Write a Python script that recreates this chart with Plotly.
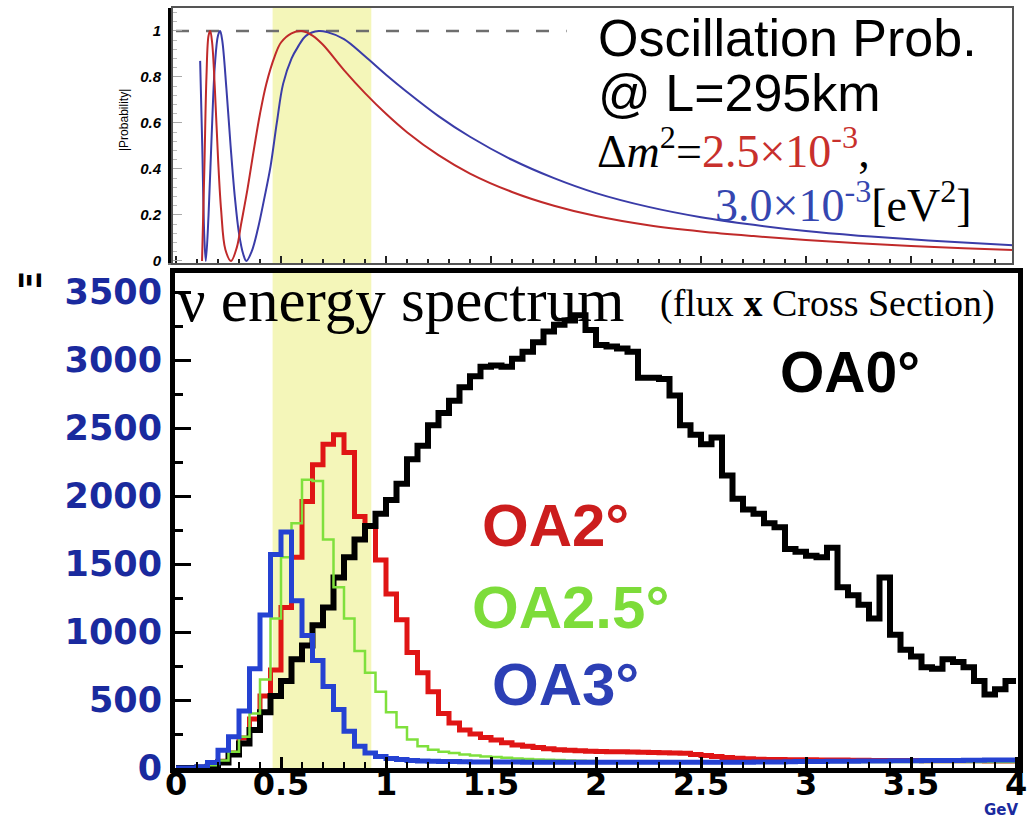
import plotly.graph_objects as go

W, H = 1035, 818

# ---------------- data ----------------
bin_width = 0.05
bin_edges = [round(i * bin_width, 2) for i in range(81)]  # 0 .. 4 GeV

oa0 = [0, 0, 2, 10, 40, 100, 180, 280, 410, 530,
       640, 800, 900, 1050, 1180, 1400, 1550, 1680, 1780, 1870,
       1970, 2090, 2270, 2370, 2520, 2610, 2700, 2800, 2880, 2950,
       2960, 2950, 3010, 3060, 3130, 3210, 3260, 3290, 3330, 3220,
       3110, 3100, 3085, 3060, 2870, 2870, 2860, 2740, 2520, 2450,
       2380, 2430, 2150, 1980, 1900, 1870, 1800, 1770, 1610, 1590,
       1560, 1550, 1620, 1330, 1270, 1200, 1100, 1400, 980, 870,
       820, 740, 730, 800, 780, 740, 640, 540, 580, 640]

oa2 = [0, 0, 5, 20, 50, 110, 220, 360, 530, 720,
       1180, 1550, 1960, 2230, 2380, 2450, 2320, 1850, 1780, 1530,
       1280, 1090, 850, 700, 560, 400, 330, 280, 250, 225,
       205, 185, 170, 160, 150, 142, 135, 130, 126, 124,
       122, 120, 119, 118, 116, 114, 112, 110, 108, 100,
       92, 85, 78, 72, 68, 65, 63, 62, 61, 60,
       60, 59, 58, 58, 57, 57, 56, 56, 55, 55,
       55, 54, 54, 54, 53, 53, 53, 52, 52, 52]

oa25 = [0, 0, 5, 20, 55, 120, 230, 400, 650, 1100,
        1550, 1800, 2120, 2110, 1680, 1330, 1100, 860, 700, 560,
        410, 300, 210, 160, 135, 120, 110, 100, 92, 85,
        80, 75, 70, 66, 62, 60, 58, 56, 54, 52,
        50, 50, 49, 49, 48, 48, 48, 47, 47, 47,
        47, 46, 46, 46, 46, 46, 45, 45, 45, 45,
        45, 45, 45, 45, 45, 45, 45, 45, 45, 45,
        45, 45, 45, 45, 45, 45, 45, 45, 45, 45]

oa3 = [0, 0, 10, 40, 130, 230, 420, 730, 1125, 1570,
       1735, 1230, 975, 790, 600, 430, 270, 160, 110, 85,
       70, 62, 56, 52, 50, 48, 47, 46, 45, 45,
       44, 44, 44, 43, 43, 43, 43, 42, 42, 42,
       42, 42, 42, 42, 42, 42, 42, 42, 42, 42,
       42, 42, 42, 43, 43, 44, 44, 45, 46, 47,
       48, 48, 49, 50, 50, 51, 52, 52, 53, 54,
       54, 55, 55, 56, 56, 57, 57, 58, 58, 58]

# oscillation probability
prob_e_25 = [0.124, 0.135, 0.145, 0.155, 0.163, 0.172, 0.185, 0.2, 0.215, 0.235,
             0.262, 0.29, 0.31, 0.34, 0.37, 0.40, 0.43, 0.47, 0.50, 0.55,
             0.60, 0.65, 0.70, 0.80, 0.90, 1.0, 1.1, 1.25, 1.4, 1.6,
             1.8, 2.0, 2.25, 2.5, 2.75, 3.0, 3.25, 3.5, 3.75, 3.986]
prob_p_25 = [0.0, 0.4, 0.8, 0.98, 1.0, 0.95, 0.75, 0.45, 0.22, 0.05,
             0.0, 0.06, 0.16, 0.31, 0.48, 0.64, 0.77, 0.89, 0.95, 0.99,
             1.0, 0.98, 0.94, 0.83, 0.73, 0.64, 0.56, 0.46, 0.38, 0.30,
             0.24, 0.195, 0.155, 0.128, 0.108, 0.091, 0.077, 0.065, 0.055, 0.047]

prob_e_30 = [0.115, 0.125, 0.135, 0.142, 0.155, 0.17, 0.185, 0.2, 0.21, 0.22,
             0.24, 0.26, 0.28, 0.30, 0.32, 0.335, 0.36, 0.39, 0.42, 0.45,
             0.48, 0.51, 0.55, 0.58, 0.62, 0.68, 0.72, 0.80, 0.90, 1.0,
             1.1, 1.25, 1.4, 1.6, 1.8, 2.0, 2.25, 2.5, 2.75, 3.0,
             3.25, 3.5, 3.75, 3.986]
prob_p_30 = [0.87, 0.5, 0.1, 0.0, 0.2, 0.55, 0.85, 0.98, 1.0, 0.96,
             0.75, 0.5, 0.28, 0.12, 0.03, 0.0, 0.04, 0.14, 0.27, 0.41,
             0.6, 0.77, 0.88, 0.93, 0.98, 1.0, 0.995, 0.965, 0.89, 0.81,
             0.735, 0.63, 0.54, 0.44, 0.36, 0.295, 0.235, 0.19, 0.157, 0.13,
             0.11, 0.094, 0.08, 0.068]

band_lo, band_hi = 0.46, 0.93

x_ticks = [0, 0.5, 1, 1.5, 2, 2.5, 3, 3.5, 4]
x_ticklabels = ["0", "0.5", "1", "1.5", "2", "2.5", "3", "3.5", "4"]
y_ticks = [0, 500, 1000, 1500, 2000, 2500, 3000, 3500]
y_ticklabels = ["0", "500", "1000", "1500", "2000", "2500", "3000", "3500"]
p_ticks = [0, 0.2, 0.4, 0.6, 0.8, 1.0]
p_ticklabels = ["0", "0.2", "0.4", "0.6", "0.8", "1"]


def px(x):
    return x / W


def py(y):
    return 1 - y / H


def steps(vals):
    return vals + [vals[-1]]


fig = go.Figure()

# ---- bottom panel histograms ----
fig.add_trace(go.Scatter(x=bin_edges, y=steps(oa2), mode="lines", line_shape="hv",
                         line=dict(color="#e01515", width=5), xaxis="x", yaxis="y"))
fig.add_trace(go.Scatter(x=bin_edges, y=steps(oa0), mode="lines", line_shape="hv",
                         line=dict(color="#000000", width=6), xaxis="x", yaxis="y"))
fig.add_trace(go.Scatter(x=bin_edges, y=steps(oa25), mode="lines", line_shape="hv",
                         line=dict(color="#7fe03c", width=2.5), xaxis="x", yaxis="y"))
fig.add_trace(go.Scatter(x=bin_edges, y=steps(oa3), mode="lines", line_shape="hv",
                         line=dict(color="#2542d2", width=5), xaxis="x", yaxis="y"))

# ---- top panel probability ----
fig.add_trace(go.Scatter(x=[0, 1.86], y=[1, 1], mode="lines",
                         line=dict(color="#6e6e6e", width=2.5, dash="13px,17px"),
                         xaxis="x2", yaxis="y2"))
fig.add_trace(go.Scatter(x=prob_e_30, y=prob_p_30, mode="lines", line_shape="spline",
                         line=dict(color="#3a3ca8", width=2), xaxis="x2", yaxis="y2"))
fig.add_trace(go.Scatter(x=prob_e_25, y=prob_p_25, mode="lines", line_shape="spline",
                         line=dict(color="#c02a2a", width=2), xaxis="x2", yaxis="y2"))

band_color = "#f4f6b9"
shapes = [
    dict(type="rect", xref="x", yref="y domain", x0=band_lo, x1=band_hi, y0=0, y1=1,
         fillcolor=band_color, line=dict(width=0), layer="below"),
    dict(type="rect", xref="x2", yref="y2 domain", x0=band_lo, x1=band_hi, y0=0, y1=1,
         fillcolor=band_color, line=dict(width=0), layer="below"),
    # top panel frame
    dict(type="rect", xref="paper", yref="paper", x0=px(172), x1=px(1013), y0=py(264), y1=py(7),
         line=dict(color="#555555", width=2), layer="above"),
]

serif = "Liberation Serif"
sans = "Liberation Sans"
blue_lbl = "#1a2a9e"

annotations = [
    dict(text="Oscillation Prob.", x=px(596), y=py(38), xanchor="left", yanchor="middle",
         font=dict(family=sans, size=52, color="black")),
    dict(text="@ L=295km", x=px(596), y=py(93), xanchor="left", yanchor="middle",
         font=dict(family=sans, size=52, color="black")),
    dict(text="Δ<i>m</i><sup>2</sup>=<span style='color:#c8302c'>2.5×10<sup>-3</sup></span>,",
         x=px(595), y=py(148), xanchor="left", yanchor="middle",
         font=dict(family=serif, size=46, color="black")),
    dict(text="<span style='color:#3546b0'>3.0×10<sup>-3</sup></span>[eV<sup>2</sup>]",
         x=px(713), y=py(202), xanchor="left", yanchor="middle",
         font=dict(family=serif, size=46, color="black")),
    dict(text="|Probability|", x=px(124), y=py(120), textangle=-90, xanchor="center", yanchor="middle",
         font=dict(family=sans, size=12, color="black")),
    dict(text="ν energy spectrum", x=px(176), y=py(300), xanchor="left", yanchor="middle",
         font=dict(family=serif, size=61, color="black")),
    dict(text="(flux <b>x</b> Cross Section)", x=px(658), y=py(304), xanchor="left", yanchor="middle",
         font=dict(family=serif, size=38, color="black")),
    dict(text="<b>OA0°</b>", x=px(778), y=py(372), xanchor="left", yanchor="middle",
         font=dict(family=sans, size=57, color="black")),
    dict(text="<b>OA2°</b>", x=px(480), y=py(525), xanchor="left", yanchor="middle",
         font=dict(family=sans, size=60, color="#cc1d1d")),
    dict(text="<b>OA2.5°</b>", x=px(470), y=py(607), xanchor="left", yanchor="middle",
         font=dict(family=sans, size=60, color="#7ddc3a")),
    dict(text="<b>OA3°</b>", x=px(490), y=py(684), xanchor="left", yanchor="middle",
         font=dict(family=sans, size=60, color="#2c3fb5")),
    dict(text="<b>GeV</b>", x=px(1020), y=py(810), xanchor="right", yanchor="middle",
         font=dict(family="DejaVu Sans", size=15, color=blue_lbl)),
    dict(text="<b>Ξ</b>", x=px(31), y=py(281), textangle=-90, xanchor="center", yanchor="middle",
         font=dict(family="DejaVu Sans", size=30, color="black")),
]
for a in annotations:
    a.update(xref="paper", yref="paper", showarrow=False)

fig.update_layout(
    width=W, height=H,
    margin=dict(l=0, r=0, t=0, b=0, autoexpand=False),
    paper_bgcolor="white", plot_bgcolor="white",
    showlegend=False,
    shapes=shapes,
    annotations=annotations,
    xaxis=dict(domain=[px(175), px(1018)], range=[(175 - 176) / 210, (1018 - 176) / 210],
               anchor="y", showgrid=False, zeroline=False, automargin=False,
               showline=True, linecolor="black", linewidth=5, mirror=True,
               ticks="inside", ticklen=11, tickwidth=3, tickcolor="black",
               tickvals=x_ticks, ticktext=x_ticklabels,
               minor=dict(dtick=0.1, ticks="inside", ticklen=6, tickwidth=2, tickcolor="black"),
               tickfont=dict(family="DejaVu Sans", size=32, color="black", weight="bold"),
               ticklabelstandoff=-16),
    yaxis=dict(domain=[py(768), py(273)], range=[0, 3640],
               anchor="x", showgrid=False, zeroline=False, automargin=False,
               showline=True, linecolor="black", linewidth=5, mirror=True,
               ticks="inside", ticklen=16, tickwidth=3, tickcolor="black",
               tickvals=y_ticks, ticktext=y_ticklabels,
               minor=dict(dtick=250, ticks="inside", ticklen=8, tickwidth=3, tickcolor="black"),
               tickfont=dict(family="DejaVu Sans", size=35, color=blue_lbl, weight="bold"),
               ticklabelstandoff=1),
    xaxis2=dict(domain=[px(172), px(1013)], range=[(172 - 176) / 210, (1013 - 176) / 210],
                anchor="y2", showgrid=False, zeroline=False, automargin=False,
                showline=True, linecolor="#777777", linewidth=2,
                ticks="inside", ticklen=7, tickwidth=2, tickcolor="#222222",
                dtick=0.5, tick0=0, showticklabels=False,
                minor=dict(dtick=0.1, ticks="inside", ticklen=4, tickwidth=2, tickcolor="#222222")),
    yaxis2=dict(domain=[py(263), py(8)], range=[-0.009, 1.1],
                anchor="x2", showgrid=False, zeroline=False, automargin=False,
                showline=True, linecolor="black", linewidth=4,
                ticks="inside", ticklen=10, tickwidth=1, tickcolor="#aaaaaa",
                tickvals=p_ticks, ticktext=p_ticklabels,
                minor=dict(dtick=0.04, ticks="inside", ticklen=5, tickwidth=1, tickcolor="#bbbbbb"),
                tickfont=dict(family=sans, size=15, color="black", weight="bold", style="italic"),
                ticklabelstandoff=4),
)

fig.write_html("out.html")
